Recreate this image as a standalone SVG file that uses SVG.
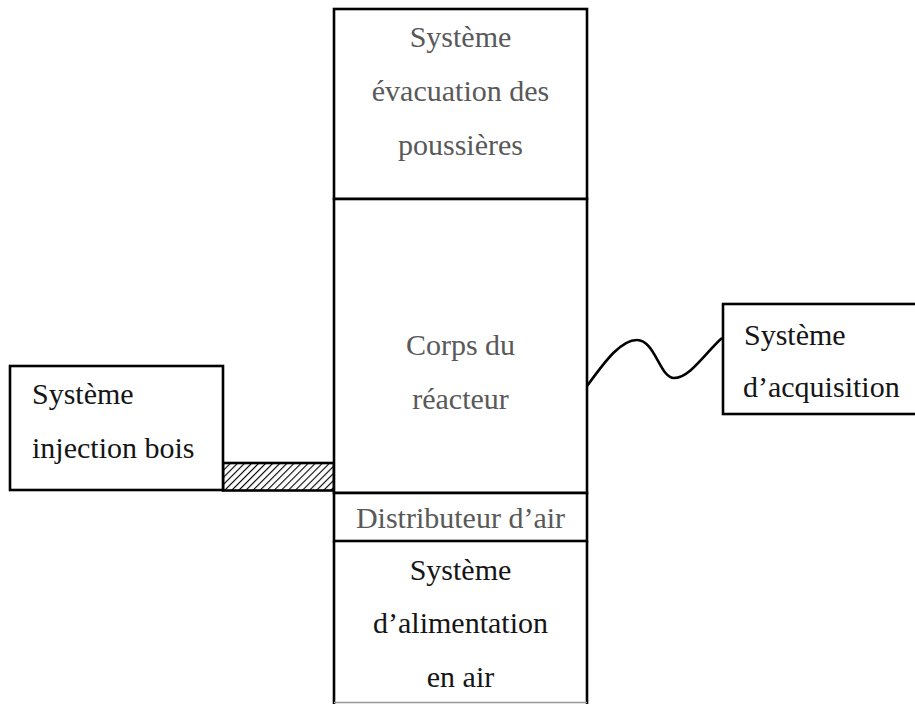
<svg xmlns="http://www.w3.org/2000/svg" width="915" height="704" viewBox="0 0 915 704">
  <defs>
    <style>
      .box { fill: #fff; stroke: #000; stroke-width: 2.6; }
      .t { font-family: "Liberation Serif", "Times New Roman", serif; font-size: 30px; }
      .g { fill: #595959; }
      .k { fill: #151515; }
      .c { text-anchor: middle; }
      .wire { fill: none; stroke: #000; stroke-width: 2.6; }
    </style>
    <pattern id="hatch" patternUnits="userSpaceOnUse" width="5" height="5" patternTransform="rotate(45)">
      <rect width="5" height="5" fill="#fff"/>
      <line x1="0" y1="0" x2="0" y2="5" stroke="#000" stroke-width="2.2"/>
    </pattern>
  </defs>

  <g id="connectors">
    <rect id="hatched-link" x="223" y="463" width="111" height="27.5" fill="url(#hatch)" stroke="#000" stroke-width="2.6"/>
    <path id="wave" class="wire" d="M587,386 C604,363 620,340 637,340 C655,340 660,378 674,378 C690,378 706,352 722,338"/>
  </g>

  <g id="evacuation">
    <rect class="box" x="334" y="9" width="253" height="190"/>
    <text class="t g c" x="460.5" y="47">Système</text>
    <text class="t g c" x="460.5" y="101">évacuation des</text>
    <text class="t g c" x="460.5" y="155">poussières</text>
  </g>

  <g id="reacteur">
    <rect class="box" x="334" y="199" width="253" height="294"/>
    <text class="t g c" x="460.5" y="355">Corps du</text>
    <text class="t g c" x="460.5" y="409">réacteur</text>
  </g>

  <g id="distributeur">
    <rect class="box" x="334" y="493" width="253" height="48"/>
    <text class="t g c" x="460.5" y="528">Distributeur d’air</text>
  </g>

  <g id="alimentation">
    <path d="M334,541 V704 M587,541 V704" class="wire"/>
    <line x1="334" y1="702.5" x2="587" y2="702.5" stroke="#999" stroke-width="1.5"/>
    <text class="t k c" x="460.5" y="580">Système</text>
    <text class="t k c" x="460.5" y="633">d’alimentation</text>
    <text class="t k c" x="460.5" y="687">en air</text>
  </g>

  <g id="injection">
    <rect class="box" x="10" y="366" width="213" height="124"/>
    <text class="t k" x="32" y="404">Système</text>
    <text class="t k" x="32" y="458">injection bois</text>
  </g>

  <g id="acquisition">
    <rect class="box" x="723" y="304" width="195" height="110"/>
    <text class="t k" x="744" y="345">Système</text>
    <text class="t k" x="743" y="397">d’acquisition</text>
  </g>
</svg>
